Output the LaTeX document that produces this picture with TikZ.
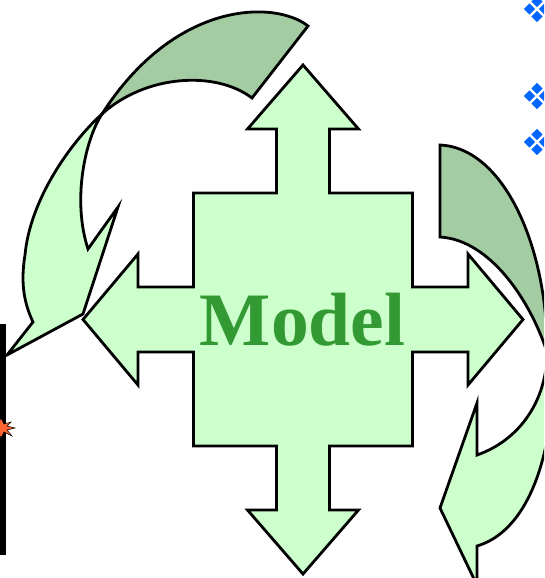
\documentclass[tikz,border=0pt]{standalone}
\usepackage{fontspec}
\setmainfont{Liberation Serif}
\definecolor{lightg}{HTML}{CCFFCC}
\definecolor{darkg}{HTML}{A3CCA3}
\definecolor{textg}{HTML}{339933}
\definecolor{bulletblue}{HTML}{0066FF}
\definecolor{burst}{HTML}{FF6633}
\tikzset{
  front/.style={fill=lightg, draw=black, line width=2.8pt, line join=miter},
  back/.style={fill=darkg, draw=black, line width=2.8pt, line join=miter},
  modeltext/.style={text=textg, font=\bfseries\fontsize{75.5}{75.5}\selectfont, inner sep=0pt}
}
\begin{document}
\begin{tikzpicture}[x=1pt,y=-1pt]
\useasboundingbox (0,0) rectangle (544,578);
\clip (0,0) rectangle (544,578);
\fill[white] (0,0) rectangle (544,578);

% left black bar and burst
\fill[black] (-4,324) rectangle (6,555);
\draw[fill=burst, draw=black, line width=0.5pt]
  (15,428) -- (7,426) -- (11,422) -- (4,424) -- (1,418) -- (-2,424) -- (-10,422)
  -- (-6,428) -- (-10,434) -- (-2,432) -- (1,438) -- (4,432) -- (12,436) -- (7,430) -- cycle;

% top-left curved arrow: back (dark) part
\path[back] (308,26) .. controls (275,0) and (175,0) .. (102,114)
  .. controls (145,75) and (215,70) .. (252,98) -- cycle;
% top-left curved arrow: front (light) part
\path[front] (102,114) .. controls (70,143) and (30,200) .. (25,255)
  .. controls (20,285) and (25,305) .. (33,322)
  -- (7,355) -- (83,314) -- (118,207) -- (88,249)
  .. controls (72,200) and (85,140) .. (102,114) -- cycle;

% right curved arrow: back (dark) part
\path[back] (440,237) -- (440,145)
  .. controls (505,148) and (548,250) .. (547,352)
  .. controls (530,300) and (490,240) .. (440,237) -- cycle;
% right curved arrow: front (light) part
\path[front] (547,352) .. controls (560,392) and (548,525) .. (477,546)
  -- (477,600) -- (486,604) -- (440,508) -- (477,403) -- (477,455)
  .. controls (520,440) and (547,400) .. (547,352) -- cycle;

% central four-way arrow
\path[front] (303,65) -- (358.5,129) -- (329.5,129) -- (329.5,193) -- (412.5,193) -- (412.5,287)
  -- (468,287) -- (468,254) -- (523,319.5) -- (468,385) -- (468,352) -- (412.5,352)
  -- (412.5,446) -- (329.5,446) -- (329.5,510) -- (358.5,510) -- (303,574) -- (247.5,510)
  -- (276.5,510) -- (276.5,446) -- (193.5,446) -- (193.5,352) -- (138,352) -- (138,385)
  -- (83,319.5) -- (138,254) -- (138,287) -- (193.5,287) -- (193.5,193) -- (276.5,193)
  -- (276.5,129) -- (247.5,129) -- cycle;

\node[modeltext, anchor=base] (model) at (302.5,345) {Model};

% bullets
\foreach \cy in {9,96,142}{
  \foreach \dx/\dy in {-7.5/0, 7.5/0, 0/-7.5, 0/7.5}{
    \fill[bulletblue] (537+\dx,\cy+\dy) ++(-5.6,0) -- ++(5.6,-5.6) -- ++(5.6,5.6) -- ++(-5.6,5.6) -- cycle;
  }
}
\end{tikzpicture}
\end{document}
